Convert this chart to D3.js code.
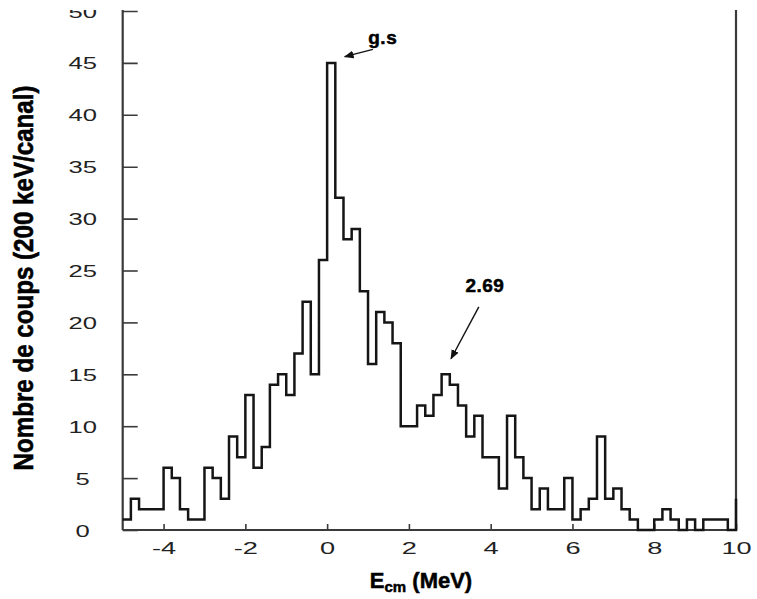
<!DOCTYPE html>
<html>
<head>
<meta charset="utf-8">
<script src="https://cdn.jsdelivr.net/npm/d3@7"></script>
<style>
  html, body { margin: 0; padding: 0; background: #fff; }
  svg { display: block; }
</style>
</head>
<body>
<svg id="chart" width="757" height="599"></svg>
<script>
// ---- data ----
const binStart = -5;      // MeV, left edge of first channel
const binWidth = 0.2;     // MeV per channel (200 keV)
const counts = [
  1, 3, 2, 2, 2, 6, 5, 2, 1, 1,
  6, 5, 3, 9, 7, 13, 6, 8, 14, 15,
  13, 17, 22, 15, 26, 45, 32, 28, 29, 23,
  16, 21, 20, 18, 10, 10, 12, 11, 13, 15,
  14, 12, 9, 11, 7, 7, 4, 11, 7, 5,
  2, 4, 2, 2, 5, 1, 2, 3, 9, 3,
  4, 2, 1, 0, 0, 1, 2, 1, 0, 1,
  0, 1, 1, 1, 0
];
const overflowCount = 3;  // first channel beyond 10 MeV (edge seen at right)
const xTicks = [-4, -2, 0, 2, 4, 6, 8, 10];
const yTicks = [0, 5, 10, 15, 20, 25, 30, 35, 40, 45, 50];
const xDomain = [-5, 10];
const yDomain = [0, 50];
const annotations = [
  { text: "g.s",  tx: 1.36, ty: 46.8, from: [1.12, 46.3], to: [0.43, 45.6] },
  { text: "2.69", tx: 3.86, ty: 22.9, from: [3.71, 21.5], to: [3.03, 16.5] }
];

// ---- layout ----
const svg = d3.select("#chart");
const mLeft = 122.7, mRight = 736, mBottom = 530, mTop = 11;
const x = d3.scaleLinear().domain(xDomain).range([mLeft, mRight]);
const y = d3.scaleLinear().domain(yDomain).range([mBottom, mTop]);
const axisColor = "#3a3a3a";
const tickFont = "'Liberation Sans', Arial, sans-serif";

const defs = svg.append("defs");
defs.append("clipPath").attr("id", "topcrop")
  .append("rect").attr("x", -200).attr("y", 10).attr("width", 957).attr("height", 589);
defs.append("marker").attr("id", "arrow")
  .attr("viewBox", "0 0 10 10").attr("refX", 9).attr("refY", 5)
  .attr("markerWidth", 7).attr("markerHeight", 7).attr("orient", "auto")
  .append("path").attr("d", "M0,1 L10,5 L0,9 Z").attr("fill", "#111");

// ---- axes ----
const gx = svg.append("g").attr("transform", `translate(0,${mBottom})`)
  .call(d3.axisBottom(x).tickValues(xTicks).tickSize(-6).tickPadding(0)
        .tickFormat(d3.format("d")));
gx.select(".domain").remove();
gx.selectAll(".tick line").attr("stroke", axisColor).attr("stroke-width", 1.6);
gx.selectAll(".tick text")
  .attr("font-family", tickFont).attr("font-size", 16).attr("fill", "#222")
  .attr("y", null).attr("dy", null)
  .attr("transform", "translate(0,24) scale(1.7,1)")
  .text(d => d < 0 ? "-" + Math.abs(d) : d);

const gy = svg.append("g").attr("transform", `translate(${mLeft},0)`)
  .attr("clip-path", "url(#topcrop)")
  .call(d3.axisLeft(y).tickValues(yTicks).tickSize(-15).tickPadding(0)
        .tickFormat(d3.format("d")));
gy.select(".domain").remove();
gy.selectAll(".tick line").attr("stroke", axisColor).attr("stroke-width", 1.6);
gy.selectAll(".tick text")
  .attr("font-family", tickFont).attr("font-size", 16).attr("fill", "#222")
  .attr("x", null).attr("dy", null).attr("text-anchor", "middle")
  .attr("transform", "translate(-40,6) scale(1.6,1)");

// frame lines: left, bottom, right
svg.append("line").attr("x1", mLeft).attr("x2", mLeft).attr("y1", 10).attr("y2", mBottom)
  .attr("stroke", axisColor).attr("stroke-width", 2.2);
svg.append("line").attr("x1", mLeft).attr("x2", mRight).attr("y1", mBottom).attr("y2", mBottom)
  .attr("stroke", axisColor).attr("stroke-width", 2.2);
svg.append("line").attr("x1", mRight).attr("x2", mRight).attr("y1", 10).attr("y2", mBottom)
  .attr("stroke", axisColor).attr("stroke-width", 2.2);

// ---- histogram ----
let d = `M${x(binStart)},${y(counts[0])}`;
counts.forEach((c, i) => {
  const x1 = binStart + (i + 1) * binWidth;
  d += ` V${y(c)} H${x(x1)}`;
});
d += ` V${y(overflowCount)}`;
svg.append("path").attr("d", d).attr("fill", "none")
  .attr("stroke", "#151515").attr("stroke-width", 2.5).attr("stroke-linejoin", "miter");

// ---- annotations ----
annotations.forEach(a => {
  svg.append("line")
    .attr("x1", x(a.from[0])).attr("y1", y(a.from[1]))
    .attr("x2", x(a.to[0])).attr("y2", y(a.to[1]))
    .attr("stroke", "#111").attr("stroke-width", 1.4)
    .attr("marker-end", "url(#arrow)");
  svg.append("text").attr("x", x(a.tx)).attr("y", y(a.ty))
    .attr("text-anchor", "middle")
    .attr("font-family", "'Liberation Sans', Arial, sans-serif")
    .attr("font-weight", "bold").attr("font-size", 19).attr("fill", "#000")
    .attr("stroke", "#000").attr("stroke-width", 0.5)
    .attr("letter-spacing", 0.5)
    .text(a.text);
});

// ---- axis titles ----
const xt = svg.append("text").attr("x", 421).attr("y", 588)
  .attr("text-anchor", "middle")
  .attr("font-family", "'Liberation Sans', Arial, sans-serif")
  .attr("font-weight", "bold").attr("font-size", 22).attr("fill", "#000")
  .attr("stroke", "#000").attr("stroke-width", 0.5);
xt.append("tspan").text("E");
xt.append("tspan").attr("font-size", 15).attr("dy", 4).text("cm");
xt.append("tspan").attr("dy", -4).text(" (MeV)");

svg.append("text")
  .attr("transform", "translate(33,278) rotate(-90)")
  .attr("text-anchor", "middle")
  .attr("font-family", "'Liberation Sans', Arial, sans-serif")
  .attr("font-weight", "bold").attr("font-size", 28).attr("fill", "#000")
  .attr("stroke", "#000").attr("stroke-width", 0.6)
  .attr("textLength", 385).attr("lengthAdjust", "spacingAndGlyphs")
  .text("Nombre de coups (200 keV/canal)");
</script>
</body>
</html>
